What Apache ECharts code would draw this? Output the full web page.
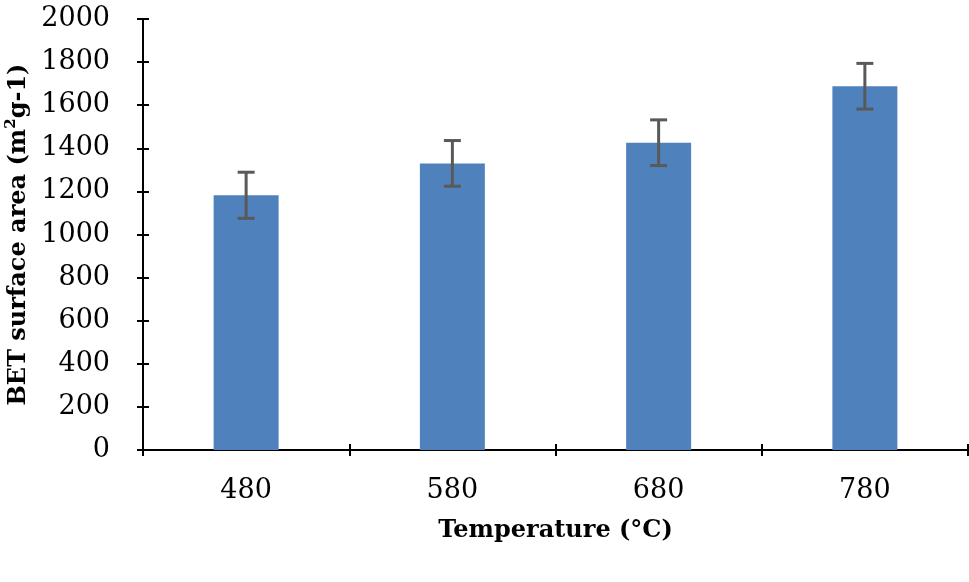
<!DOCTYPE html>
<html>
<head>
<meta charset="utf-8">
<script src="https://cdn.jsdelivr.net/npm/echarts@6/dist/echarts.min.js"></script>
<style>html,body{margin:0;padding:0;background:#fff}#c{width:969px;height:582px}</style>
</head>
<body>
<div id="c"></div>
<script>
var categories = ['480', '580', '680', '780'];
var surfaceArea = [1182, 1330, 1426, 1688];
var errorValues = [107, 106, 106, 106];
var yTicks = {min: 0, max: 2000, interval: 200};

var chart = echarts.init(document.getElementById('c'));
var FONT = 'DejaVu Serif';
var errData = categories.map(function (c, i) {
  return [i, surfaceArea[i] - errorValues[i], surfaceArea[i] + errorValues[i]];
});

chart.setOption({
  animation: false,
  grid: {left: 143, right: 1, top: 19, bottom: 132, containLabel: false, outerBoundsMode: 'none'},
  xAxis: [{
    type: 'category', data: categories,
    axisLine: {lineStyle: {color: '#000', width: 2}},
    axisTick: {show: true, length: 6, lineStyle: {color: '#000', width: 2}},
    axisLabel: {fontFamily: FONT, fontSize: 27, color: '#000', margin: 27},
    name: 'Temperature (°C)', nameLocation: 'middle', nameGap: 69,
    nameTextStyle: {fontFamily: FONT, fontSize: 24, fontWeight: 'bold', color: '#000'}
  }, {
    type: 'category', data: categories, position: 'bottom',
    axisLine: {show: false},
    axisTick: {show: true, inside: true, length: 6, lineStyle: {color: '#000', width: 2}},
    axisLabel: {show: false}
  }],
  yAxis: [{
    type: 'value', min: yTicks.min, max: yTicks.max, interval: yTicks.interval,
    splitLine: {show: false},
    axisLine: {show: true, lineStyle: {color: '#000', width: 2}},
    axisTick: {show: true, length: 6, lineStyle: {color: '#000', width: 2}},
    axisLabel: {fontFamily: FONT, fontSize: 27, color: '#000', margin: 33,
      formatter: function (v) { return String(v); }},
    name: '{a|BET surface area (m}{s|2}{a|g-1)}', nameLocation: 'middle', nameGap: 102, nameRotate: 90,
    nameTextStyle: {
      rich: {
        a: {fontFamily: FONT, fontSize: 24, fontWeight: 'bold', color: '#000', lineHeight: 30},
        s: {fontFamily: FONT, fontSize: 15, fontWeight: 'bold', color: '#000', verticalAlign: 'top', lineHeight: 30, padding: [0, 0, 10, 0]}
      }
    }
  }, {
    type: 'value', min: yTicks.min, max: yTicks.max, interval: yTicks.interval, position: 'left',
    splitLine: {show: false},
    axisLine: {show: false},
    axisTick: {show: true, inside: true, length: 6, lineStyle: {color: '#000', width: 2}},
    axisLabel: {show: false}
  }],
  series: [{
    type: 'bar', data: surfaceArea, barWidth: '31.5%',
    itemStyle: {color: '#4F81BD'}, z: 2
  }, {
    type: 'custom', data: errData, z: 5,
    renderItem: function (params, api) {
      var x = api.value(0);
      var lo = api.coord([x, api.value(1)]);
      var hi = api.coord([x, api.value(2)]);
      var hw = 8.5;
      var st = {stroke: '#595959', lineWidth: 3};
      return {type: 'group', children: [
        {type: 'line', shape: {x1: hi[0], y1: hi[1], x2: lo[0], y2: lo[1]}, style: st},
        {type: 'line', shape: {x1: hi[0] - hw, y1: hi[1], x2: hi[0] + hw, y2: hi[1]}, style: st},
        {type: 'line', shape: {x1: lo[0] - hw, y1: lo[1], x2: lo[0] + hw, y2: lo[1]}, style: st}
      ]};
    }
  }]
});
</script>
</body>
</html>
